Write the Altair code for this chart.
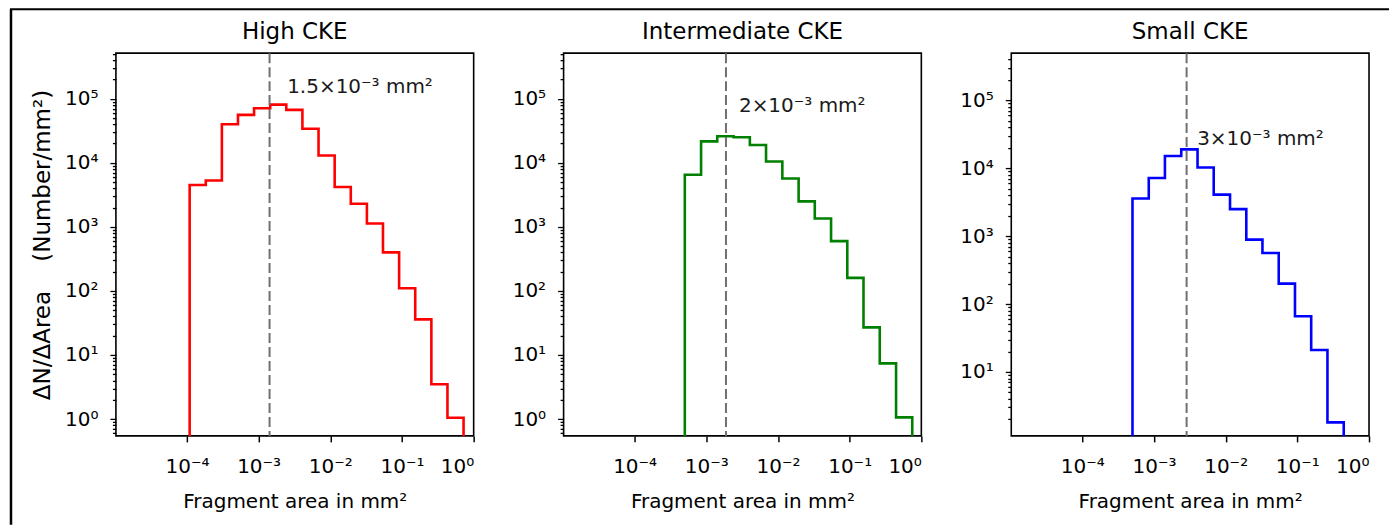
import altair as alt
import pandas as pd

# ---------------- data ----------------
titles = ["High CKE", "Intermediate CKE", "Small CKE"]
colors = ["#ff0000", "#008000", "#0000ff"]

edges_high = [1.09e-4, 1.83e-4, 3.07e-4, 5.15e-4, 8.63e-4, 1.45e-3, 2.43e-3, 4.08e-3,
              6.85e-3, 1.15e-2, 1.93e-2, 3.24e-2, 5.43e-2, 9.12e-2, 0.153, 0.257, 0.431, 0.723]
vals_high = [4.5e3, 5.3e3, 4.0e4, 5.6e4, 7.1e4, 8.1e4, 6.7e4, 3.4e4, 1.3e4, 4.2e3,
             2.3e3, 1.13e3, 400, 110, 36, 3.5, 1.05]

edges_inter = [5.01e-4, 8.45e-4, 1.42e-3, 2.40e-3, 4.05e-3, 6.81e-3, 1.15e-2, 1.94e-2,
               3.26e-2, 5.50e-2, 9.27e-2, 0.156, 0.263, 0.444, 0.747]
vals_inter = [6.5e3, 2.16e4, 2.6e4, 2.5e4, 1.9e4, 1.05e4, 5.7e3, 2.5e3, 1.35e3, 600,
              160, 27, 7.4, 1.06]

edges_small = [5.01e-4, 8.45e-4, 1.42e-3, 2.40e-3, 4.05e-3, 6.81e-3, 1.15e-2, 1.94e-2,
               3.26e-2, 5.50e-2, 9.27e-2, 0.156, 0.263, 0.444]
vals_small = [3.6e3, 7.2e3, 1.52e4, 1.9e4, 1.03e4, 4.1e3, 2.5e3, 890, 565, 200, 66, 21, 1.8]

medians = [1.42e-3, 1.88e-3, 2.85e-3]
median_labels = ["1.5×10⁻³ mm²", "2×10⁻³ mm²", "3×10⁻³ mm²"]
label_x = [2.5e-3, 2.85e-3, 4.0e-3]
label_y = [1.5e5, 7.7e4, 2.7e4]

y_domains = [[0.546, 5.15e5], [0.546, 5.15e5], [1.14, 4.98e5]]
x_domain = [1.02e-5, 1.0]
x_ticks = [1e-4, 1e-3, 1e-2, 1e-1, 1.0]
y_majors = [1, 10, 100, 1e3, 1e4, 1e5]

x_title = "Fragment area in mm²"
y_title = "ΔN/ΔArea\u00a0\u00a0\u00a0\u00a0(Number/mm²)"

FONT = "DejaVu Sans"

EXP = "round(log(datum.value)/LN10)"
IS_MAJOR = f"abs(log(datum.value)/LN10 - {EXP}) < 0.001"
SUP = "['⁰','¹','²','³','⁴','⁵','⁶']"
LABEL_EXPR = (f"{IS_MAJOR} ? ('10' + ({EXP} < 0 ? '⁻' : '') + {SUP}[abs({EXP})]) : ''")

W, H = 358, 383


def step_frame(edges, vals, ymin):
    xs = [edges[0]] + list(edges) + [edges[-1]]
    ys = [ymin] + list(vals) + [vals[-1], ymin]
    return pd.DataFrame({"x": xs, "y": ys, "i": list(range(len(xs)))})


def panel(k, edges, vals, first):
    dmin, dmax = y_domains[k]
    minors = [m * 10.0 ** e for e in range(-1, 6) for m in range(2, 10)
              if dmin <= m * 10.0 ** e <= dmax]
    yvals = [v for v in y_majors if dmin <= v <= dmax] + minors

    xscale = alt.Scale(type="log", domain=x_domain)
    yscale = alt.Scale(type="log", domain=[dmin, dmax])

    xaxis = alt.Axis(values=x_ticks, labelExpr=LABEL_EXPR, title=x_title,
                     titleFontSize=20, titleFontWeight="normal", titleFont=FONT,
                     titleX=W / 2, titleY=66, titleBaseline="middle",
                     labelFontSize=20, labelFont=FONT, labelPadding=15,
                     tickSize=6, tickWidth=1.5, tickColor="black",
                     domain=False, grid=False, labelOverlap=False, labelColor="black",
                     titleColor="black")
    yaxis_kwargs = dict(values=yvals, labelExpr=LABEL_EXPR,
                        labelFontSize=20, labelFont=FONT, labelPadding=12,
                        tickSize={"condition": {"test": IS_MAJOR, "value": 6}, "value": 3.5},
                        tickWidth=1.3, tickColor="black", labelColor="black",
                        domain=False, grid=False, labelOverlap=False)
    if first:
        yaxis = alt.Axis(title=y_title, titleFontSize=23, titleFontWeight="normal",
                         titleFont=FONT, titleColor="black", titleX=-73, titleY=H / 2,
                         titleAngle=270, titleAlign="center", titleBaseline="middle",
                         **yaxis_kwargs)
    else:
        yaxis = alt.Axis(title=None, **yaxis_kwargs)

    df = step_frame(edges, vals, dmin)
    line = alt.Chart(df).mark_line(interpolate="step-after", color=colors[k],
                                   strokeWidth=2.6, clip=True).encode(
        x=alt.X("x:Q", scale=xscale, axis=xaxis),
        y=alt.Y("y:Q", scale=yscale, axis=yaxis),
        order=alt.Order("i:Q"),
    )
    med = pd.DataFrame({"x": [medians[k]]})
    rule = alt.Chart(med).mark_rule(color="#707070", strokeWidth=2,
                                    strokeDash=[10, 4]).encode(x=alt.X("x:Q", scale=xscale))
    lab = pd.DataFrame({"x": [label_x[k]], "y": [label_y[k]], "t": [median_labels[k]]})
    text = alt.Chart(lab).mark_text(align="left", baseline="middle", fontSize=20,
                                    font=FONT, color="#1a1a1a").encode(
        x=alt.X("x:Q", scale=xscale), y=alt.Y("y:Q", scale=yscale), text="t:N")
    ttl = pd.DataFrame({"t": [titles[k]]})
    title = alt.Chart(ttl).mark_text(align="center", baseline="alphabetic", fontSize=23,
                                     font=FONT, color="black").encode(
        x=alt.value(W / 2), y=alt.value(-14), text="t:N")
    layers = [line, rule, text, title]
    if first:
        one = pd.DataFrame({"a": [0]})
        top = alt.Chart(one).mark_rule(color="black", strokeWidth=2).encode(
            x=alt.value(-106), x2=alt.value(1274), y=alt.value(-44))
        left = alt.Chart(one).mark_rule(color="black", strokeWidth=2.5).encode(
            x=alt.value(-105), y=alt.value(-44), y2=alt.value(472))
        layers += [top, left]
    return alt.layer(*layers).properties(
        width=W, height=H,
        view=alt.ViewBackground(stroke="black", strokeWidth=1.6, fill="white"))


p1 = panel(0, edges_high, vals_high, True)
p2 = panel(1, edges_inter, vals_inter, False)
p3 = panel(2, edges_small, vals_small, False)

chart = alt.hconcat(p1, p2, p3, spacing=90, bounds="flush").properties(
    padding={"left": 8, "top": 6, "right": 0, "bottom": 0}
).configure(background="white")

chart.save("out.html", embed_options={"renderer": "svg", "actions": False})
